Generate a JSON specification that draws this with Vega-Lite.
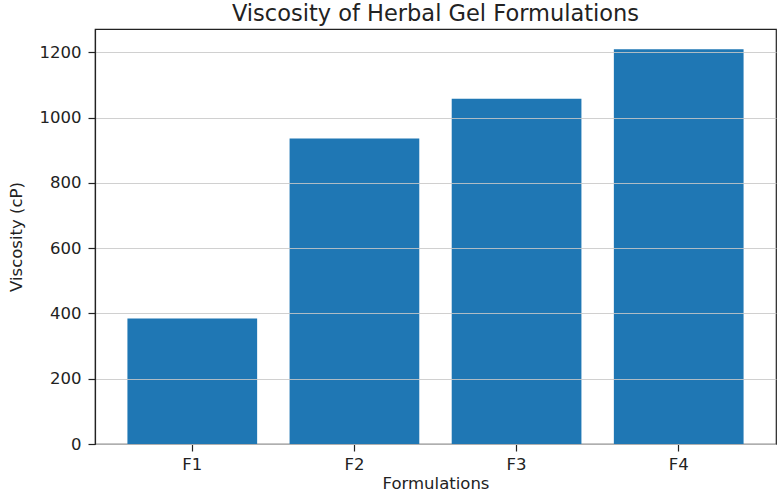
{
  "$schema": "https://vega.github.io/schema/vega-lite/v6.json",
  "description": "Viscosity of herbal gel formulations, one bar per formulation.",
  "width": 681,
  "height": 415,
  "autosize": {"type": "none"},
  "padding": {"left": 95, "top": 29, "right": 8, "bottom": 51},
  "background": "white",
  "title": {
    "text": "Viscosity of Herbal Gel Formulations",
    "fontSize": 22.5,
    "font": "DejaVu Sans",
    "fontWeight": "normal",
    "color": "#222222",
    "offset": 4
  },
  "data": {
    "values": [
      {"formulation": "F1", "viscosity": 385},
      {"formulation": "F2", "viscosity": 936},
      {"formulation": "F3", "viscosity": 1058},
      {"formulation": "F4", "viscosity": 1210}
    ]
  },
  "mark": {"type": "bar", "color": "#1f77b4"},
  "encoding": {
    "x": {
      "field": "formulation",
      "type": "nominal",
      "title": "Formulations",
      "scale": {"paddingInner": 0.2, "paddingOuter": 0.2},
      "axis": {"labelAngle": 0, "labelPadding": 5, "titlePadding": 3}
    },
    "y": {
      "field": "viscosity",
      "type": "quantitative",
      "title": "Viscosity (cP)",
      "scale": {"domain": [0, 1272], "nice": false},
      "axis": {
        "values": [0, 200, 400, 600, 800, 1000, 1200],
        "format": "d",
        "grid": true,
        "zindex": 1,
        "labelPadding": 7,
        "titlePadding": 15
      }
    }
  },
  "config": {
    "font": "DejaVu Sans",
    "view": {"stroke": "#222222", "strokeWidth": 1.2},
    "axis": {
      "labelFont": "DejaVu Sans",
      "titleFont": "DejaVu Sans",
      "labelFontSize": 16.5,
      "titleFontSize": 16.5,
      "titleFontWeight": "normal",
      "labelColor": "#222222",
      "titleColor": "#222222",
      "domainColor": "#222222",
      "domainWidth": 1.2,
      "tickColor": "#222222",
      "tickSize": 7,
      "tickWidth": 1.2,
      "grid": false,
      "gridColor": "#c8c8c8",
      "gridOpacity": 0.85,
      "gridWidth": 1.2
    }
  }
}
